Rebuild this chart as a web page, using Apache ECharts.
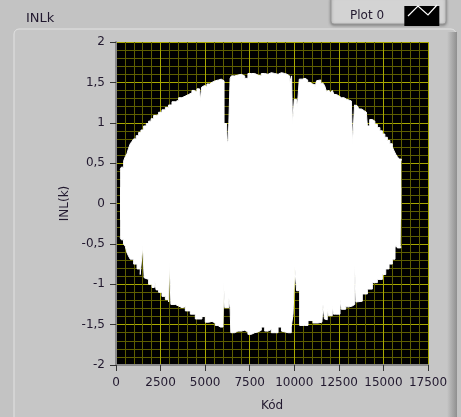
<!DOCTYPE html>
<html><head><meta charset="utf-8">
<script src="https://cdn.jsdelivr.net/npm/echarts@6/dist/echarts.min.js"></script>
<style>html,body{margin:0;padding:0;background:#c3c3c3}#c{width:461px;height:417px}</style>
</head><body><div id="c"></div><script>
// ---- data ----
const titleText = 'INLk';
const seriesName = 'Plot 0';
const xAxisName = 'Kód';
const yAxisName = 'INL(k)';
const xTickValues = [0, 2500, 5000, 7500, 10000, 12500, 15000, 17500];
const xTickLabels = ['0', '2500', '5000', '7500', '10000', '12500', '15000', '17500'];
const yTickValues = [-2, -1.5, -1, -0.5, 0, 0.5, 1, 1.5, 2];
const yTickLabels = ['-2', '-1,5', '-1', '-0,5', '0', '0,5', '1', '1,5', '2'];

const upperCodes = [230,300,430,520,617,700,800,900,990,1130,1270,1400,1550,1700,1830,1970,2110,2250,2390,2580,2770,2950,3140,3330,3515,3700,3890,4070,4260,4400,4540,4680,4730,4800,4820,4960,5100,5250,5385,5570,5760,5900,6000,6060,6200,6240,6290,6330,6400,6470,6650,6840,7020,7220,7400,7590,7780,7965,8150,8340,8525,8710,8900,9090,9280,9460,9600,9740,9850,9900,9960,10000,10120,10170,10230,10280,10450,10600,10750,10880,11020,11160,11250,11350,11480,11610,11700,11800,11850,11950,12040,12130,12230,12370,12510,12650,12790,12930,13070,13200,13270,13330,13380,13440,13530,13630,13770,13910,14050,14100,14180,14230,14380,14520,14660,14800,14940,15080,15220,15360,15500,15600,15690,15780,15875,16000];
const upperVals = [0.42,0.45,0.53,0.58,0.62,0.68,0.74,0.77,0.80,0.84,0.88,0.91,0.96,0.99,1.02,1.05,1.09,1.10,1.13,1.16,1.19,1.22,1.26,1.28,1.31,1.33,1.35,1.37,1.40,1.38,1.42,1.42,1.27,1.44,1.46,1.45,1.48,1.50,1.52,1.53,1.54,1.55,1.52,0.99,0.98,0.75,0.78,1.00,1.55,1.58,1.59,1.60,1.58,1.55,1.61,1.61,1.59,1.58,1.61,1.60,1.62,1.61,1.60,1.62,1.61,1.60,1.58,1.50,1.58,0.98,0.98,1.29,1.29,1.19,1.20,1.54,1.55,1.53,1.50,1.48,1.47,1.44,1.52,1.53,1.49,1.48,1.46,1.39,1.40,1.38,1.37,1.40,1.35,1.33,1.31,1.31,1.29,1.28,1.27,1.26,0.74,0.74,1.22,1.21,1.19,1.17,1.15,1.13,1.10,0.96,0.96,1.04,1.02,0.98,0.94,0.90,0.86,0.82,0.78,0.74,0.70,0.65,0.61,0.58,0.55,0.53];

const lowerCodes = [230,300,420,520,617,700,800,990,1180,1360,1470,1500,1580,1645,1830,2020,2150,2170,2250,2390,2580,2770,2950,3000,3040,3080,3140,3330,3515,3700,3890,4170,4450,4820,5010,5200,5385,5570,5720,5850,6000,6040,6100,6200,6330,6400,6440,6650,6840,7020,7220,7400,7590,7780,7965,8150,8340,8525,8710,8900,9090,9280,9370,9650,9830,9930,10030,10090,10130,10220,10300,10580,10770,11050,11330,11550,11610,11690,11700,11850,11920,11950,12130,12200,12320,12565,12640,12695,12880,13070,13250,13390,13460,13535,13815,14100,14380,14660,14940,15130,15315,15500,15650,15690,15780,15970,16000];
const lowerVals = [-0.42,-0.45,-0.50,-0.53,-0.61,-0.65,-0.69,-0.75,-0.81,-0.88,-0.90,-0.53,-0.92,-0.94,-1.00,-1.04,-1.06,-0.96,-1.07,-1.10,-1.15,-1.19,-1.22,-0.73,-0.73,-1.25,-1.25,-1.27,-1.29,-1.28,-1.33,-1.37,-1.43,-1.40,-1.47,-1.46,-1.48,-1.51,-1.53,-1.53,-1.54,-0.98,-1.29,-1.29,-1.17,-1.29,-1.60,-1.58,-1.58,-1.57,-1.59,-1.62,-1.60,-1.59,-1.57,-1.53,-1.58,-1.56,-1.60,-1.60,-1.53,-1.58,-1.60,-1.60,-1.53,-1.37,-0.79,-0.79,-1.08,-1.08,-1.51,-1.51,-1.45,-1.48,-1.47,-1.45,-1.25,-1.43,-1.44,-1.31,-1.39,-1.39,-1.27,-1.37,-1.37,-1.19,-1.31,-1.31,-1.28,-1.27,-1.25,-0.77,-1.22,-1.21,-1.12,-1.06,-0.98,-0.94,-0.88,-0.81,-0.75,-0.69,-0.55,-0.51,-0.55,-0.53,-0.53];

// ---- chart ----
const pairs = (xs, ys) => xs.map((x, i) => [x, ys[i]]);
const labelOf = (vals, labels) => v => { const i = vals.indexOf(v); return i >= 0 ? labels[i] : String(v); };
const txt = '#22192f';
const font = 'DejaVu Sans';
const chart = echarts.init(document.getElementById('c'), null, {renderer: 'canvas'});
chart.setOption({
  animation: false,
  backgroundColor: '#c3c3c3',
  title: {text: titleText, left: 21, top: 7, textStyle: {fontFamily: font, fontSize: 13, fontWeight: 'normal', color: txt}},
  legend: {
    data: [seriesName], left: 345, top: 1, align: 'right', icon: 'rect',
    itemWidth: 35, itemHeight: 20,
    itemStyle: {color: '#000', borderWidth: 0},
    formatter: name => name + '    ',
    textStyle: {fontFamily: font, fontSize: 12, color: txt}
  },
  grid: {left: 116, right: 33, top: 42, bottom: 51, show: true, backgroundColor: '#000', borderWidth: 0},
  xAxis: {
    type: 'value', min: xTickValues[0], max: xTickValues[xTickValues.length - 1], interval: 2500,
    name: xAxisName, nameLocation: 'middle', nameGap: 35,
    nameTextStyle: {fontFamily: font, fontSize: 12, color: txt},
    axisLine: {show: true, onZero: false, lineStyle: {color: '#8a8a8a', width: 2}},
    axisTick: {show: true, length: 6, lineStyle: {color: '#333'}},
    axisLabel: {fontFamily: font, fontSize: 12, color: txt, margin: 12, formatter: labelOf(xTickValues, xTickLabels)},
    splitLine: {show: true, lineStyle: {color: '#a8a800', width: 1}},
    minorTick: {show: false, splitNumber: 5},
    minorSplitLine: {show: true, lineStyle: {color: '#5e5e00', width: 1}}
  },
  yAxis: {
    type: 'value', min: yTickValues[0], max: yTickValues[yTickValues.length - 1], interval: 0.5,
    name: yAxisName, nameLocation: 'middle', nameGap: 44, nameRotate: 90,
    nameTextStyle: {fontFamily: font, fontSize: 12, color: txt},
    axisLine: {show: true, onZero: false, lineStyle: {color: '#8a8a8a', width: 2}},
    axisTick: {show: true, length: 6, lineStyle: {color: '#333'}},
    axisLabel: {fontFamily: font, fontSize: 12, color: txt, margin: 11, formatter: labelOf(yTickValues, yTickLabels)},
    splitLine: {show: true, lineStyle: {color: '#a8a800', width: 1}},
    minorTick: {show: false, splitNumber: 5},
    minorSplitLine: {show: true, lineStyle: {color: '#5e5e00', width: 1}}
  },
  graphic: [
    {type: 'rect', z: -10, silent: true, shape: {x: 14, y: 29, width: 442, height: 400, r: 5},
      style: {fill: '#c6c6c6', stroke: '#e2e2e2', lineWidth: 1}},
    {type: 'rect', z: -9, silent: true, shape: {x: 447, y: 32, width: 10, height: 390},
      style: {fill: new echarts.graphic.LinearGradient(0, 0, 1, 0, [{offset: 0, color: '#c6c6c6'}, {offset: 1, color: '#8f8f8f'}])}},
    {type: 'rect', z: -8, silent: true, shape: {x: 331, y: -4, width: 115, height: 28, r: 3},
      style: {fill: '#d3d3d3', stroke: '#9a9a9a', lineWidth: 1, shadowBlur: 3, shadowColor: 'rgba(0,0,0,0.35)', shadowOffsetY: 1}},
    {type: 'polyline', z: 100, silent: true, shape: {points: [[408, 16], [418, 6], [428, 15], [437, 5]]},
      style: {stroke: '#fff', lineWidth: 1.2, fill: null}}
  ],
  series: [
    {name: seriesName, type: 'line', step: 'end', symbol: 'none', data: pairs(upperCodes, upperVals),
      lineStyle: {color: '#fff', width: 1}, itemStyle: {color: '#fff'},
      areaStyle: {color: '#fff', opacity: 1, origin: -0.2}},
    {name: seriesName, type: 'line', step: 'end', symbol: 'none', data: pairs(lowerCodes, lowerVals),
      lineStyle: {color: '#fff', width: 1}, itemStyle: {color: '#fff'},
      areaStyle: {color: '#fff', opacity: 1, origin: 0.2}}
  ]
});
</script></body></html>
